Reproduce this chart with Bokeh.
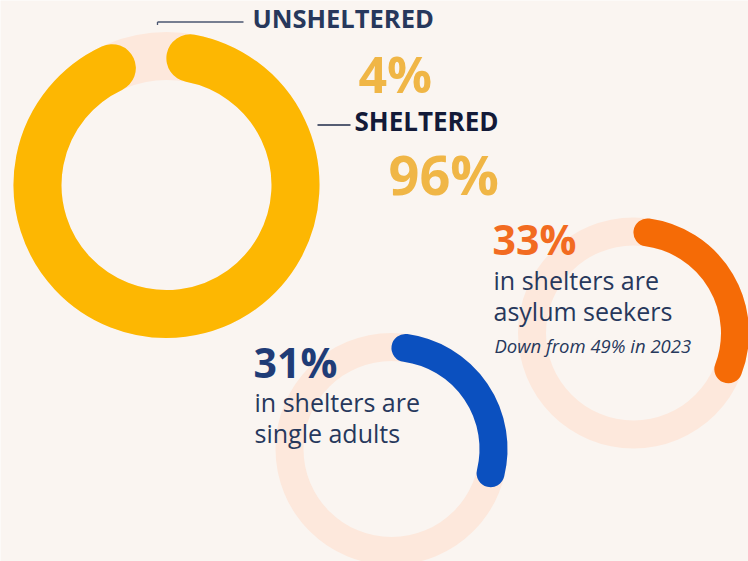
import math
from bokeh.plotting import figure
from bokeh.models import Range1d
from bokeh.core.properties import value
from bokeh.embed import file_html
from bokeh.resources import INLINE

# ---------------- data ----------------
shelter_labels = ["UNSHELTERED", "SHELTERED"]
shelter_pct = [4, 96]
stat_pct = [33, 31]
stat_lines = [["in shelters are", "asylum seekers"], ["in shelters are", "single adults"]]
stat_note = "Down from 49% in 2023"

# ---------------- style / layout ----------------
W, H = 748, 561
BG = "#FAF5F1"
TRACK = "#FDE8DC"
YELLOW = "#FDB702"
ORANGE = "#F56B06"
BLUE = "#0B50BF"
GOLD_TXT = "#F0B646"
ORANGE_TXT = "#F26B21"
NAVY = "#27385C"
DARK_NAVY = "#131A38"
BLUE_TXT = "#1F3C77"
FONT = "Open Sans"
BASE_SHIFT = 0.44   # compensation (in em) for where the text box baseline lands


def Y(v):
    # pixel row (top-down) -> data y (y axis points up)
    return H - v


p = figure(width=W, height=H, output_backend="svg", toolbar_location=None,
           x_range=Range1d(0, W), y_range=Range1d(0, H),
           x_axis_location=None, y_axis_location=None, min_border=0)
p.grid.visible = False
p.outline_line_color = None
p.background_fill_color = BG
p.border_fill_color = BG


def donut(cx, cy, r_out, width, pct, color):
    r_mid = r_out - width / 2.0
    p.annulus(x=[cx], y=[Y(cy)], inner_radius=r_out - width, outer_radius=r_out,
              fill_color=TRACK, line_color=None)
    cap = math.degrees((width / 2.0) / r_mid)
    t0 = 0 + cap
    t1 = pct * 3.6 - cap
    p.arc(x=[cx], y=[Y(cy)], radius=r_mid,
          start_angle=90 - t0, end_angle=90 - t1, start_angle_units="deg",
          end_angle_units="deg", direction="clock",
          line_color=color, line_width=width, line_cap="round")


# big donut: sheltered share
donut(166, 184.5, 153, 48, shelter_pct[1], YELLOW)
# asylum seekers
donut(633, 332.5, 115.5, 28, stat_pct[0], ORANGE)
# single adults
donut(391, 448.5, 116, 28, stat_pct[1], BLUE)


def txt(x, y, s, size, color, style="bold"):
    p.text(x=[x], y=[Y(y - BASE_SHIFT * size)], text=[s], text_font=value(FONT),
           text_font_size=value(f"{size}px"),
           text_font_style=style, text_color=color, text_align="left",
           text_baseline="alphabetic")


# leader lines
p.line(x=[157, 243], y=[Y(21.5), Y(21.5)], line_color="#4A5670", line_width=1.3)
p.line(x=[157, 157], y=[Y(21.5), Y(24.5)], line_color="#4A5670", line_width=1.3)
p.line(x=[317, 350], y=[Y(124.5), Y(124.5)], line_color="#1E2A48", line_width=1.3)

txt(252, 29, shelter_labels[0], 25.5, NAVY)
txt(358, 95, f"{shelter_pct[0]}%", 50, GOLD_TXT)
txt(354, 132, shelter_labels[1], 26, DARK_NAVY)
txt(388, 197, f"{shelter_pct[1]}%", 54, GOLD_TXT)

txt(492, 257, f"{stat_pct[0]}%", 41, ORANGE_TXT)
txt(493, 290, stat_lines[0][0], 25, NAVY, "normal")
txt(493, 321, stat_lines[0][1], 25, NAVY, "normal")
txt(494, 353, stat_note, 18.5, NAVY, "italic")

txt(253, 380, f"{stat_pct[1]}%", 41, BLUE_TXT)
txt(254, 412, stat_lines[1][0], 25, NAVY, "normal")
txt(254, 443, stat_lines[1][1], 25, NAVY, "normal")

open("out.html", "w").write(file_html(p, INLINE))
